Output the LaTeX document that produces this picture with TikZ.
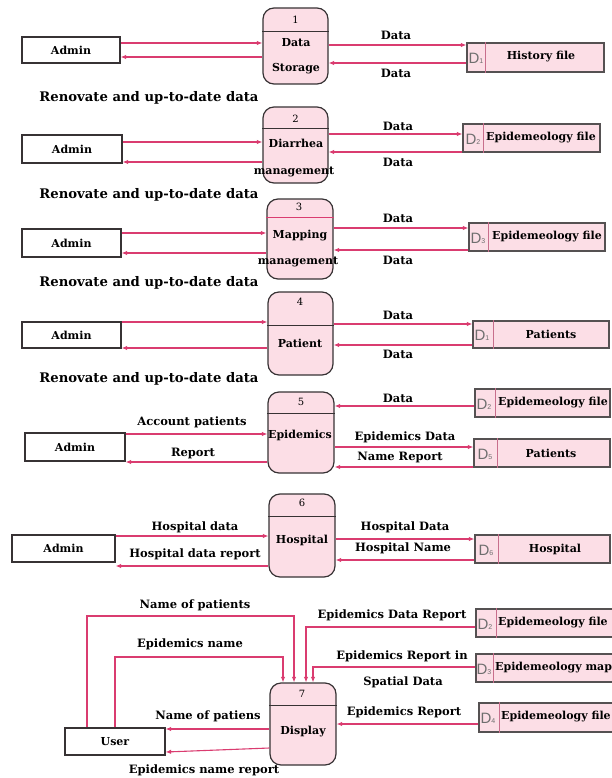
\documentclass[tikz,border=0pt]{standalone}
\usepackage{fontspec}
\setmainfont{DejaVu Serif}
\setsansfont{Liberation Sans}
\usetikzlibrary{arrows.meta}
\definecolor{flow}{RGB}{218,60,112}
\definecolor{pinkfill}{RGB}{252,222,230}
\definecolor{edgec}{RGB}{55,50,52}
\definecolor{divc}{RGB}{200,110,140}
\definecolor{dgray}{RGB}{110,110,110}
\tikzset{
 flowline/.style={draw=flow, line width=1.1pt, -{Latex[length=5.5pt,width=4.5pt]}},
 extbox/.style={draw=edgec, line width=1.2pt, fill=white, inner sep=0pt, font=\fontsize{11}{12}\selectfont\bfseries},
 procbox/.style={draw=edgec, line width=1.2pt, fill=pinkfill, rounded corners=11pt, inner sep=0pt},
 storebox/.style={draw=edgec!85, line width=1.2pt, fill=pinkfill, inner sep=0pt},
 hdr/.style={draw=edgec, line width=0.9pt},
 divline/.style={draw=divc, line width=0.9pt},
 lbl/.style={inner sep=0pt, font=\fontsize{11.5}{12}\selectfont\bfseries},
 biglbl/.style={inner sep=0pt, font=\fontsize{13.2}{14}\selectfont\bfseries},
 ptext/.style={inner sep=0pt, font=\fontsize{11}{12}\selectfont\bfseries},
 stext/.style={inner sep=0pt, font=\fontsize{11}{12}\selectfont\bfseries},
 numlbl/.style={inner sep=0pt, font=\fontsize{10}{11}\selectfont},
 dlbl/.style={inner sep=0pt, text=dgray, font=\sffamily\fontsize{15}{16}\selectfont},
}
\newcommand{\dname}[1]{D{\fontsize{7}{8}\selectfont #1}}
\begin{document}
\begin{tikzpicture}[x=1pt,y=-1pt]
\useasboundingbox (0,0) rectangle (612,778);
\clip (0,0) rectangle (612,778);

% ---------- Row 1 ----------
\node[extbox, minimum width=98pt, minimum height=26pt] (a1) at (71,50) {Admin};
\node[procbox, minimum width=65pt, minimum height=76pt] (p1) at (295.5,46) {};
\draw[hdr] (p1.west |- 0,31) -- (p1.east |- 0,31);
\node[numlbl] (p1n) at (295.5,20) {1};
\node[ptext] (p1a) at (296,43) {Data};
\node[ptext] (p1b) at (296,69) {Storage};
\node[storebox, minimum width=137pt, minimum height=29pt] (s1) at (535.5,57.5) {};
\draw[divline] (s1.north -| 485,0) -- (s1.south -| 485,0);
\node[dlbl] (s1d) at (476,58) {\dname{1}};
\node[stext] (s1t) at (541,57) {History file};
\draw[flowline] (a1.east |- 0,43) -- (p1.west |- 0,43);
\draw[flowline] (p1.west |- 0,57) -- (a1.east |- 0,57);
\draw[flowline] (p1.east |- 0,45) -- (s1.west |- 0,45);
\draw[flowline] (s1.west |- 0,63) -- (p1.east |- 0,63);
\node[lbl] (l1a) at (396,35) {Data};
\node[lbl] (l1b) at (396,73) {Data};
\node[biglbl] (r1) at (149,98) {Renovate and up-to-date data};

% ---------- Row 2 ----------
\node[extbox, minimum width=100pt, minimum height=28pt] (a2) at (72,149) {Admin};
\node[procbox, minimum width=65pt, minimum height=76pt] (p2) at (295.5,145) {};
\draw[hdr] (p2.west |- 0,128) -- (p2.east |- 0,128);
\node[numlbl] (p2n) at (295.5,119) {2};
\node[ptext] (p2a) at (296,143) {Diarrhea};
\node[ptext] (p2b) at (294,172) {management};
\node[storebox, minimum width=137pt, minimum height=28pt] (s2) at (531.5,138) {};
\draw[divline] (s2.north -| 483,0) -- (s2.south -| 483,0);
\node[dlbl] (s2d) at (473,139) {\dname{2}};
\node[stext] (s2t) at (541,138) {Epidemeology file};
\draw[flowline] (a2.east |- 0,142) -- (p2.west |- 0,142);
\draw[flowline] (p2.west |- 0,162) -- (a2.east |- 0,162);
\draw[flowline] (p2.east |- 0,134) -- (s2.west |- 0,134);
\draw[flowline] (s2.west |- 0,152) -- (p2.east |- 0,152);
\node[lbl] (l2a) at (398,126) {Data};
\node[lbl] (l2b) at (398,162) {Data};
\node[biglbl] (r2) at (149,195) {Renovate and up-to-date data};

% ---------- Row 3 ----------
\node[extbox, minimum width=99pt, minimum height=28pt] (a3) at (71.5,243) {Admin};
\node[procbox, minimum width=66pt, minimum height=80pt] (p3) at (300,239) {};
\draw[draw=flow, line width=0.9pt] (p3.west |- 0,217) -- (p3.east |- 0,217);
\node[numlbl] (p3n) at (299,207) {3};
\node[ptext] (p3a) at (300,236) {Mapping};
\node[ptext] (p3b) at (298,262) {management};
\node[storebox, minimum width=136pt, minimum height=28pt] (s3) at (537,237) {};
\draw[divline] (s3.north -| 488,0) -- (s3.south -| 488,0);
\node[dlbl] (s3d) at (478,238) {\dname{3}};
\node[stext] (s3t) at (547,237) {Epidemeology file};
\draw[flowline] (a3.east |- 0,233) -- (p3.west |- 0,233);
\draw[flowline] (p3.west |- 0,253) -- (a3.east |- 0,253);
\draw[flowline] (p3.east |- 0,228) -- (s3.west |- 0,228);
\draw[flowline] (s3.west |- 0,250) -- (p3.east |- 0,250);
\node[lbl] (l3a) at (398,218) {Data};
\node[lbl] (l3b) at (398,260) {Data};
\node[biglbl] (r3) at (149,283) {Renovate and up-to-date data};

% ---------- Row 4 ----------
\node[extbox, minimum width=99pt, minimum height=26pt] (a4) at (71.5,335) {Admin};
\node[procbox, minimum width=65pt, minimum height=83pt] (p4) at (300.5,333.5) {};
\draw[hdr] (p4.west |- 0,325) -- (p4.east |- 0,325);
\node[numlbl] (p4n) at (300,302) {4};
\node[ptext] (p4a) at (300,343) {Patient};
\node[storebox, minimum width=136pt, minimum height=27pt] (s4) at (541,334.5) {};
\draw[divline] (s4.north -| 493,0) -- (s4.south -| 493,0);
\node[dlbl] (s4d) at (482,335) {\dname{1}};
\node[stext] (s4t) at (551,334) {Patients};
\draw[flowline] (a4.east |- 0,322) -- (p4.west |- 0,322);
\draw[flowline] (p4.west |- 0,348) -- (a4.east |- 0,348);
\draw[flowline] (p4.east |- 0,324) -- (s4.west |- 0,324);
\draw[flowline] (s4.west |- 0,345) -- (p4.east |- 0,345);
\node[lbl] (l4a) at (398,315) {Data};
\node[lbl] (l4b) at (398,354) {Data};
\node[biglbl] (r4) at (149,379) {Renovate and up-to-date data};

% ---------- Row 5 ----------
\node[extbox, minimum width=100pt, minimum height=28pt] (a5) at (75,447) {Admin};
\node[procbox, minimum width=66pt, minimum height=81pt] (p5) at (301,432.5) {};
\draw[hdr] (p5.west |- 0,413) -- (p5.east |- 0,413);
\node[numlbl] (p5n) at (301,402) {5};
\node[ptext] (p5a) at (300,435) {Epidemics};
\node[storebox, minimum width=135pt, minimum height=28pt] (s5a) at (542.5,403) {};
\draw[divline] (s5a.north -| 495,0) -- (s5a.south -| 495,0);
\node[dlbl] (s5ad) at (484,404) {\dname{2}};
\node[stext] (s5at) at (553,403) {Epidemeology file};
\node[storebox, minimum width=136pt, minimum height=28pt] (s5b) at (542,453) {};
\draw[divline] (s5b.north -| 497,0) -- (s5b.south -| 497,0);
\node[dlbl] (s5bd) at (485,454) {\dname{5}};
\node[stext] (s5bt) at (551,453) {Patients};
\draw[flowline] (a5.east |- 0,434) -- (p5.west |- 0,434);
\draw[flowline] (p5.west |- 0,462) -- (a5.east |- 0,462);
\draw[flowline] (s5a.west |- 0,406) -- (p5.east |- 0,406);
\draw[flowline] (p5.east |- 0,447) -- (s5b.west |- 0,447);
\draw[flowline] (s5b.west |- 0,467) -- (p5.east |- 0,467);
\node[lbl] (l5a) at (192,422) {Account patients};
\node[lbl] (l5b) at (193,453) {Report};
\node[lbl] (l5c) at (398,398) {Data};
\node[lbl] (l5d) at (405,437) {Epidemics Data};
\node[lbl] (l5e) at (400,457) {Name Report};

% ---------- Row 6 ----------
\node[extbox, minimum width=103pt, minimum height=27pt] (a6) at (63.5,548.5) {Admin};
\node[procbox, minimum width=66pt, minimum height=83pt] (p6) at (302,535.5) {};
\draw[hdr] (p6.west |- 0,516) -- (p6.east |- 0,516);
\node[numlbl] (p6n) at (302,503) {6};
\node[ptext] (p6a) at (302,540) {Hospital};
\node[storebox, minimum width=135pt, minimum height=28pt] (s6) at (542.5,549) {};
\draw[divline] (s6.north -| 498,0) -- (s6.south -| 498,0);
\node[dlbl] (s6d) at (486,550) {\dname{6}};
\node[stext] (s6t) at (555,549) {Hospital};
\draw[flowline] (a6.east |- 0,536) -- (p6.west |- 0,536);
\draw[flowline] (p6.west |- 0,566) -- (a6.east |- 0,566);
\draw[flowline] (p6.east |- 0,539) -- (s6.west |- 0,539);
\draw[flowline] (s6.west |- 0,560) -- (p6.east |- 0,560);
\node[lbl] (l6a) at (195,527) {Hospital data};
\node[lbl] (l6b) at (195,554) {Hospital data report};
\node[lbl] (l6c) at (405,527) {Hospital Data};
\node[lbl] (l6d) at (403,548) {Hospital Name};

% ---------- Row 7 ----------
\node[extbox, minimum width=100pt, minimum height=27pt] (u) at (115,741.5) {User};
\node[procbox, minimum width=66pt, minimum height=82pt] (p7) at (303,724) {};
\draw[hdr] (p7.west |- 0,705) -- (p7.east |- 0,705);
\node[numlbl] (p7n) at (302,694) {7};
\node[ptext] (p7a) at (303,732) {Display};
\node[storebox, minimum width=140pt, minimum height=28pt] (s7a) at (546,623) {};
\draw[divline] (s7a.north -| 496,0) -- (s7a.south -| 496,0);
\node[dlbl] (s7ad) at (485,624) {\dname{2}};
\node[stext, anchor=west] (s7at) at (498,623) {Epidemeology file};
\node[storebox, minimum width=140pt, minimum height=28pt] (s7b) at (546,668) {};
\draw[divline] (s7b.north -| 493,0) -- (s7b.south -| 493,0);
\node[dlbl] (s7bd) at (484,669) {\dname{3}};
\node[stext, anchor=west] (s7bt) at (495,668) {Epidemeology map};
\node[storebox, minimum width=140pt, minimum height=29pt] (s7c) at (549,717.5) {};
\draw[divline] (s7c.north -| 499,0) -- (s7c.south -| 499,0);
\node[dlbl] (s7cd) at (488,718) {\dname{4}};
\node[stext, anchor=west] (s7ct) at (501,717) {Epidemeology file};
\draw[flowline] (u.north -| 87,0) -- (87,616) -- (294,616) -- (p7.north -| 294,0);
\draw[flowline] (u.north -| 115,0) -- (115,657) -- (283,657) -- (p7.north -| 283,0);
\draw[flowline] (s7a.west |- 0,627) -- (306,627) -- (p7.north -| 306,0);
\draw[flowline] (s7b.west |- 0,667) -- (313,667) -- (p7.north -| 313,0);
\draw[flowline] (s7c.west |- 0,724) -- (p7.east |- 0,724);
\draw[flowline] (p7.west |- 0,729) -- (u.east |- 0,729);
\draw[flowline] (p7.west |- 0,748) -- (u.east |- 0,752);
\node[lbl] (l7a) at (195,605) {Name of patients};
\node[lbl] (l7b) at (190,644) {Epidemics name};
\node[lbl] (l7c) at (392,615) {Epidemics Data Report};
\node[lbl] (l7d) at (402,656) {Epidemics Report in};
\node[lbl] (l7e) at (403,682) {Spatial Data};
\node[lbl] (l7f) at (404,712) {Epidemics Report};
\node[lbl] (l7g) at (208,716) {Name of patiens};
\node[lbl] (l7h) at (204,770) {Epidemics name report};
\end{tikzpicture}
\end{document}
